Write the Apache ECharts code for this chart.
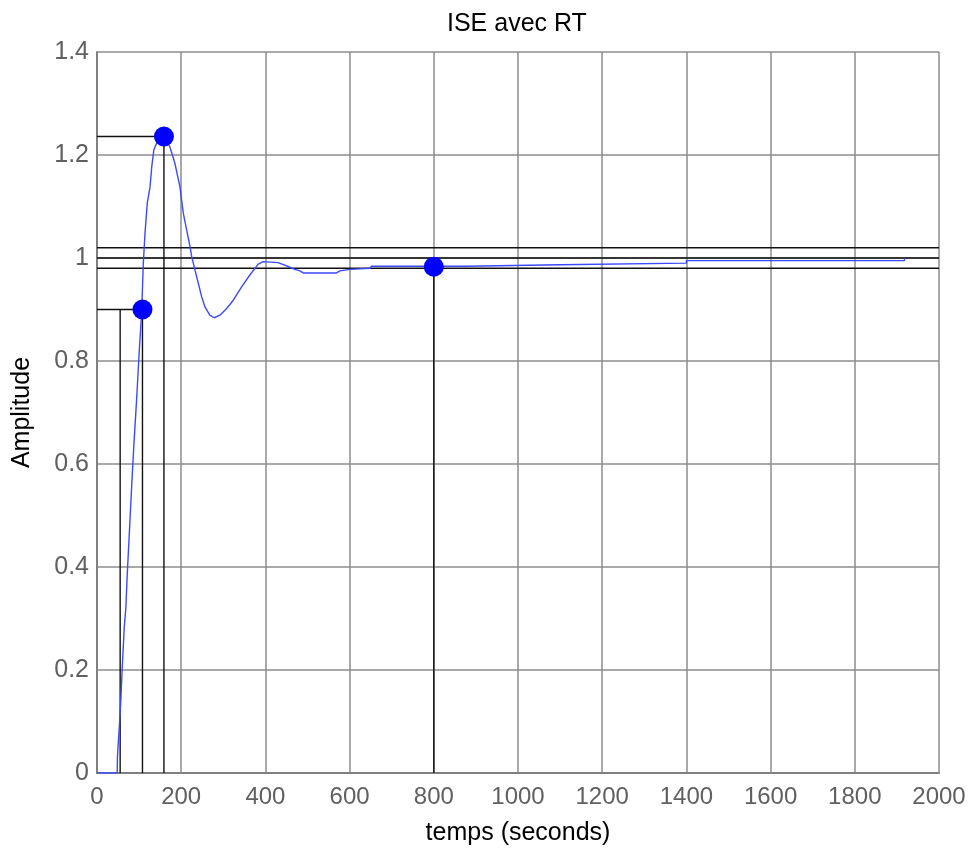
<!DOCTYPE html>
<html>
<head>
<meta charset="utf-8">
<script src="https://cdn.jsdelivr.net/npm/echarts@6/dist/echarts.min.js"></script>
<style>html,body{margin:0;padding:0;background:#fff;}#c{width:976px;height:858px;}</style>
</head>
<body>
<div id="c"></div>
<script>
// Step response samples (time s, amplitude)
const timeValues = [0,48,48.5,50.5,53,56.3,60,64.8,68.5,72,76.8,82.3,87.8,94,100.5,106,110,114,119.5,126,130,135,141.7,150,159.8,166,173,185,197,205,213,221,224.8,232.7,240.6,248.5,256.4,268,278.5,292,308,323.7,343.5,363,383,395,430,446,458,470,482,490,569,577,601,648,652,878,878,1099,1099,1400,1400,1918,1918];
const ampValues  = [0,0,0.03,0.058,0.09,0.136,0.206,0.284,0.32,0.388,0.466,0.556,0.64,0.724,0.821,0.893,0.99,1.048,1.107,1.138,1.177,1.21,1.223,1.232,1.236,1.228,1.216,1.184,1.138,1.087,1.054,1.022,1.003,0.977,0.951,0.925,0.905,0.889,0.884,0.889,0.902,0.918,0.944,0.967,0.988,0.993,0.991,0.986,0.982,0.978,0.975,0.971,0.971,0.975,0.978,0.98,0.984,0.984,0.987,0.987,0.990,0.990,0.995,0.995,1.0];
// Characteristic points
const riseStartTime = 55;
const riseEndTime = 108;
const riseLevel = 0.9;
const peakTime = 159;
const peakValue = 1.236;
const settleTime = 800;
const settleValue = 0.983;
const bandLevels = [0.98, 1.0, 1.02];
// Axes ticks
const xTicks = [0,200,400,600,800,1000,1200,1400,1600,1800,2000];
const yTicks = [0,0.2,0.4,0.6,0.8,1.0,1.2,1.4];

const curve = timeValues.map((t,i)=>[t, ampValues[i]]);
const blackLine = (data) => ({type:'line', data, symbol:'none', silent:true, z:2,
  lineStyle:{color:'#111', width:1.4}, animation:false});

const series = [];
bandLevels.forEach(v => series.push(blackLine([[xTicks[0], v],[xTicks[xTicks.length-1], v]])));
series.push(blackLine([[riseStartTime,0],[riseStartTime,riseLevel]]));
series.push(blackLine([[0,riseLevel],[riseEndTime,riseLevel],[riseEndTime,0]]));
series.push(blackLine([[0,peakValue],[peakTime,peakValue],[peakTime,0]]));
series.push(blackLine([[settleTime,0],[settleTime,settleValue]]));
series.push({type:'line', data:curve, symbol:'none', z:3, animation:false,
  lineStyle:{color:'#3a4aff', width:1.4}});
series.push({type:'scatter', z:4, animation:false, symbolSize:20,
  itemStyle:{color:'#0000ff', opacity:1},
  data:[[riseEndTime,riseLevel],[peakTime,peakValue],[settleTime,settleValue]]});

const chart = echarts.init(document.getElementById('c'), null, {renderer:'canvas'});
chart.setOption({
  backgroundColor:'#fff',
  animation:false,
  title:{text:'ISE avec RT', left:442, top:7,
    textStyle:{fontFamily:'Liberation Sans', fontSize:25, fontWeight:'normal', color:'#000'}},
  grid:{left:97, right:37, top:52, bottom:85},
  xAxis:{type:'value', min:xTicks[0], max:xTicks[xTicks.length-1], interval:200,
    name:'temps (seconds)', nameLocation:'middle', nameGap:48,
    nameTextStyle:{fontFamily:'Liberation Sans', fontSize:25, color:'#000'},
    axisLine:{show:true, lineStyle:{color:'#808080', width:2}},
    axisTick:{show:false},
    axisLabel:{fontFamily:'Liberation Sans', fontSize:24, color:'#606060', margin:12,
      formatter:(v)=>String(v)},
    splitLine:{show:true, showMinLine:true, showMaxLine:true, lineStyle:{color:'#8c8c8c', width:1.5}}},
  yAxis:{type:'value', min:yTicks[0], max:yTicks[yTicks.length-1], interval:0.2,
    name:'Amplitude', nameLocation:'middle', nameGap:62,
    nameTextStyle:{fontFamily:'Liberation Sans', fontSize:25, color:'#000'},
    axisLine:{show:true, lineStyle:{color:'#808080', width:2}},
    axisTick:{show:false},
    axisLabel:{fontFamily:'Liberation Sans', fontSize:25, color:'#606060', margin:8,
      formatter:(v)=>String(Math.round(v*10)/10)},
    splitLine:{show:true, showMinLine:true, showMaxLine:true, lineStyle:{color:'#8c8c8c', width:1.5}}},
  series
});
</script>
</body>
</html>
